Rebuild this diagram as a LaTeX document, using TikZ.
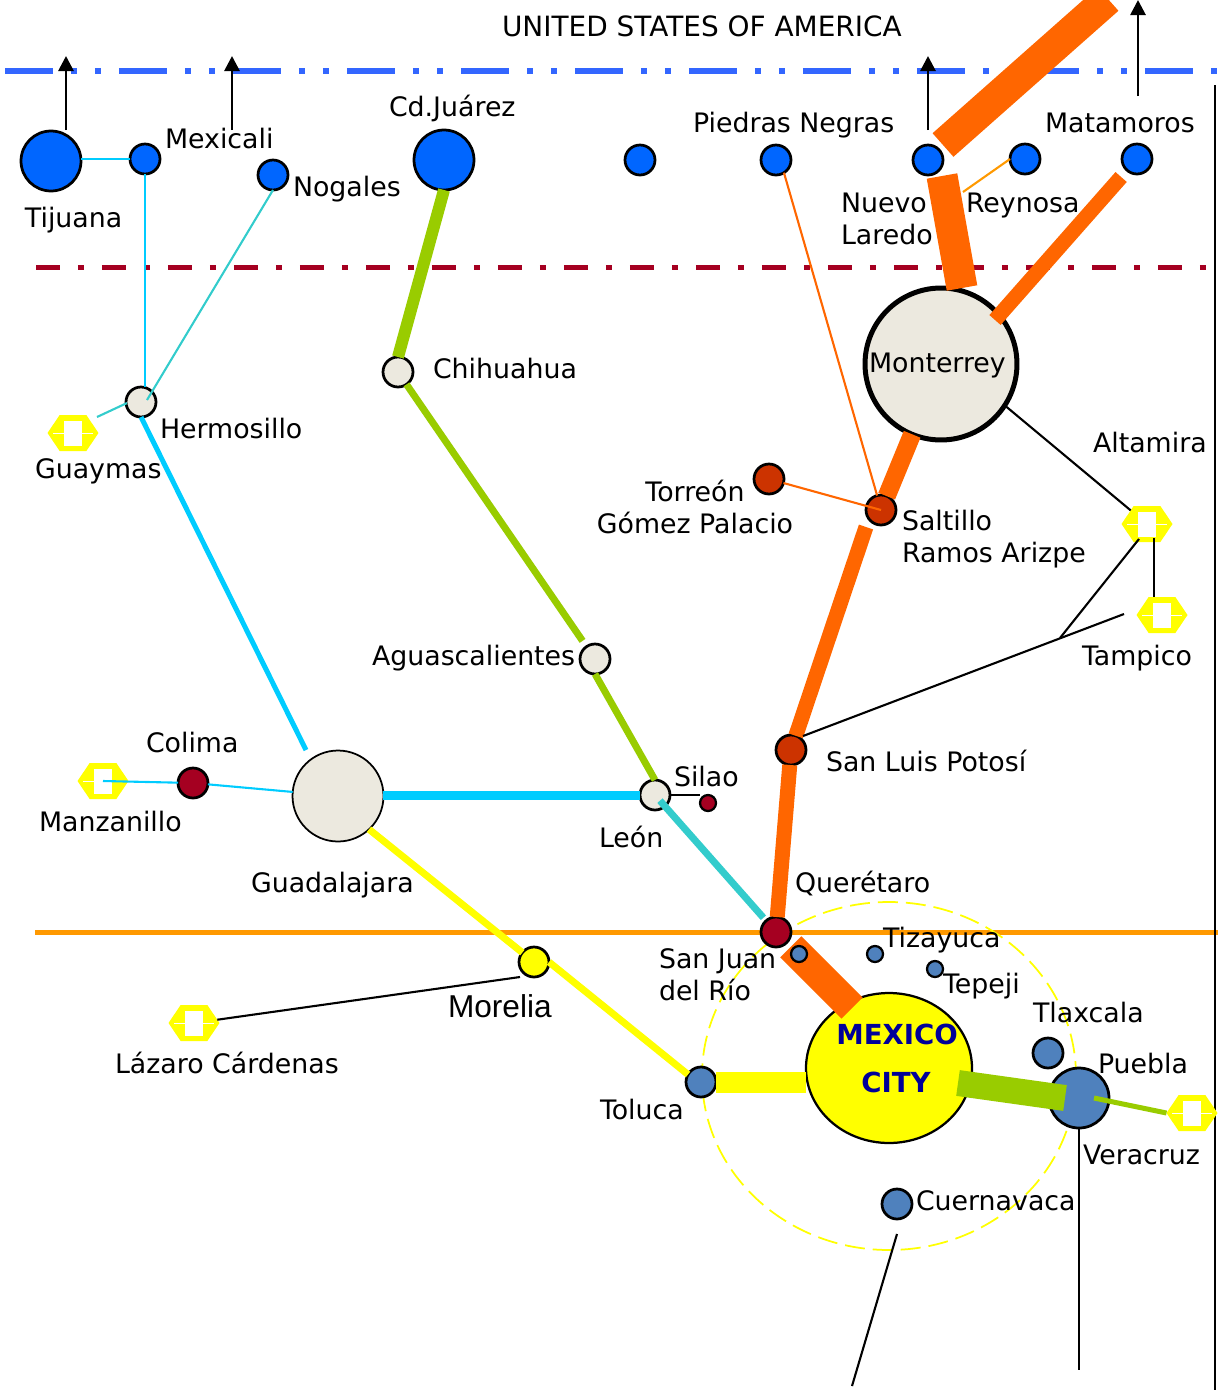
\documentclass[tikz,border=0pt]{standalone}
\usepackage{fontspec}
\setmainfont{DejaVu Sans}
\newfontfamily\arialfont{Liberation Sans}
\usetikzlibrary{arrows.meta,shapes.symbols,shapes.geometric}
\definecolor{cityblue}{HTML}{0066FF}
\definecolor{hubblue}{HTML}{4F81BD}
\definecolor{dashblue}{HTML}{3366FF}
\definecolor{sand}{HTML}{ECE9DF}
\definecolor{wine}{HTML}{A50021}
\definecolor{rust}{HTML}{CC3300}
\definecolor{route}{HTML}{FF6600}
\definecolor{amber}{HTML}{FF9900}
\definecolor{leaf}{HTML}{99CC00}
\definecolor{sky}{HTML}{00CCFF}
\definecolor{teal2}{HTML}{33CCCC}
\definecolor{navy2}{HTML}{000099}
\definecolor{lemon}{HTML}{FFFF00}
\tikzset{
    city/.style={circle,draw=black,line width=.55mm,minimum size=6mm,inner sep=0pt,outer sep=0pt},
    bigcity/.style={city,minimum size=12mm},
    tiny/.style={city,minimum size=3.2mm,line width=.45mm},
    port/.style={signal,signal to=east and west,signal pointer angle=112,fill=lemon,
        minimum width=10.2mm,minimum height=7.2mm,inner sep=0pt,outer sep=0pt,
        path picture={
            \fill[white] ([shift={(-1.8mm,-2.5mm)}]path picture bounding box.center) rectangle ([shift={(1.8mm,2.5mm)}]path picture bounding box.center);
            \draw[white,line width=.2mm] ([xshift=-4mm]path picture bounding box.center) -- ([xshift=4mm]path picture bounding box.center);
        }},
    lbl/.style={anchor=west,inner sep=0pt,outer sep=0pt,font=\fontsize{15.25}{18.2}\selectfont,text height=11.34pt,text depth=0pt},
    lbls/.style={anchor=west,inner sep=0pt,outer sep=0pt,font=\fontsize{15.25}{18.2}\selectfont,align=left},
    thinline/.style={line width=.42mm},
    capital/.style={anchor=west,inner sep=0pt,text=navy2,font=\fontsize{15.7}{18}\selectfont\bfseries},
    up/.style={-{Triangle[width=3mm,length=3mm]},line width=.55mm}
}
\begin{document}
\begin{tikzpicture}[x=0.02cm,y=-0.02cm]
        \path[use as bounding box,clip] (0,0) rectangle (1218,1390);

        \coordinate (b1) at (5,71);
        \coordinate (b2) at (1218,71);
        \coordinate (r1) at (36,267);
        \coordinate (r2) at (1207,267);
        \coordinate (o1) at (35,932);
        \coordinate (o2) at (1218,932);
        \coordinate (e1) at (1215,85);
        \coordinate (e2) at (1215,1390);

        \draw[dashblue,line width=1.2mm,dash pattern=on 9.6mm off 3.6mm on 1.2mm off 3.6mm on 1.2mm off 3.6mm] (b1) -- (b2);
        \draw[wine,line width=1mm,dash pattern=on 4.8mm off 3.6mm on 1.2mm off 3.6mm] (r1) -- (r2);
        \draw[amber,line width=1mm] (o1) -- (o2);
        \draw[thinline] (e1) -- (e2);
        \draw[lemon,line width=.35mm,dash pattern=on 4mm off 1.6mm] (889,1076) ellipse [x radius=187,y radius=174];

        \node[bigcity,fill=cityblue] (tij) at (51,161) {};
        \node[city,fill=cityblue] (mxl) at (145,159) {};
        \node[city,fill=cityblue] (nog) at (273,175) {};
        \node[bigcity,fill=cityblue] (cdj) at (444,160) {};
        \node[city,fill=cityblue] (acu) at (640,160) {};
        \node[city,fill=cityblue] (pie) at (776,160) {};
        \node[city,fill=cityblue] (nld) at (928,160) {};
        \node[city,fill=cityblue] (rey) at (1025,159) {};
        \node[city,fill=cityblue] (mat) at (1137,159) {};

        \node[city,fill=sand] (her) at (141,402) {};
        \node[city,fill=sand] (chi) at (398,372) {};
        \node[city,fill=sand] (ags) at (595,659) {};
        \node[city,fill=sand] (leo) at (655,795) {};
        \node[city,fill=sand,minimum size=18.2mm,line width=.35mm] (gdl) at (338,796) {};
        \node[city,fill=sand,minimum size=30.4mm,line width=1mm] (mon) at (941,364) {};

        \node[city,fill=rust] (tor) at (769,479) {};
        \node[city,fill=rust] (sal) at (881,510) {};
        \node[city,fill=rust] (slp) at (791,750) {};
        \node[city,fill=wine] (col) at (193,783) {};
        \node[city,fill=wine] (qro) at (776,932) {};
        \node[tiny,fill=wine] (sil) at (708,803) {};
        \node[city,fill=lemon] (mor) at (534,962) {};

        \node[ellipse,draw=black,line width=.45mm,fill=lemon,minimum width=33.2mm,minimum height=30mm,inner sep=0pt,outer sep=0pt] (mex) at (889,1068) {};
        \node[city,fill=hubblue] (tol) at (701,1082) {};
        \node[bigcity,fill=hubblue] (pue) at (1079,1098) {};
        \node[city,fill=hubblue] (tla) at (1048,1053) {};
        \node[city,fill=hubblue] (cue) at (897,1204) {};
        \node[tiny,fill=hubblue] (tiz) at (875,954) {};
        \node[tiny,fill=hubblue] (tep) at (935,969) {};

        \node[port] (gym) at (73,433) {};
        \node[port] (man) at (103,781) {};
        \node[port] (alt) at (1147,524) {};
        \node[port] (tam) at (1162,615) {};
        \node[port] (lzc) at (194,1023) {};
        \node[port] (ver) at (1192,1113) {};

        \coordinate (a1) at (66,130);
        \coordinate (a2) at (66,56);
        \coordinate (a3) at (232,130);
        \coordinate (a4) at (232,56);
        \coordinate (a5) at (928,130);
        \coordinate (a6) at (928,56);
        \coordinate (a7) at (1138,96);
        \coordinate (a8) at (1138,0);

        \coordinate (c1) at (943,145);
        \coordinate (c2) at (1108,-1);
        \coordinate (c3) at (942,176);
        \coordinate (c4) at (962,288);
        \coordinate (c5) at (995,320);
        \coordinate (c6) at (866,527);
        \coordinate (c7) at (852,1008);
        \coordinate (c8) at (958,1083);
        \coordinate (c9) at (1065,1098);
        \coordinate (c10) at (1094,1098);
        \coordinate (h1) at (147,400);
        \coordinate (h2) at (97,417);
        \coordinate (h3) at (127,403);
        \coordinate (g1) at (306,750);
        \coordinate (k1) at (963,192);
        \coordinate (t1) at (1154,538);
        \coordinate (t2) at (1139,539);
        \coordinate (t3) at (1060,638);
        \coordinate (t4) at (1124,614);
        \coordinate (t5) at (803,736);
        \coordinate (t6) at (897,1234);
        \coordinate (t7) at (852,1386);
        \coordinate (t8) at (1079,1370);
        \coordinate (t10) at (520,977);

        \draw[up] (a1) -- (a2);
        \draw[up] (a3) -- (a4);
        \draw[up] (a5) -- (a6);
        \draw[up] (a7) -- (a8);

        \draw[route,line width=6.3mm] (c1) -- (c2);
        \draw[route,line width=6.2mm] (c3) -- (c4);
        \draw[route,line width=3mm,shorten <=1.8mm] (mat) -- (c5);
        \draw[route,line width=3.6mm] (mon) -- (sal);
        \draw[route,line width=3mm] (c6) -- (slp);
        \draw[route,line width=3mm] (slp) -- (qro);
        \draw[route,line width=6mm,shorten <=1.2mm] (qro) -- (c7);

        \draw[route,thinline] (pie.-58) -- (sal.105);
        \draw[route,thinline] (tor) -- (sal.center);
        \draw[amber,thinline] (rey.west) -- (k1);

        \draw[leaf,line width=2.4mm] (cdj.south) -- (chi.north);
        \draw[leaf,line width=1.4mm,shorten >=1.4mm] (chi) -- (ags);
        \draw[leaf,line width=1.4mm] (ags.south) -- (leo.north);
        \draw[leaf,line width=5.2mm] (c8) -- (c9);
        \draw[leaf,line width=1mm] (c10) -- (ver.west);

        \draw[sky,line width=1mm] (her.south) -- (g1);
        \draw[sky,line width=1.8mm] (leo.west) -- (leo.west -| gdl.east);
        \draw[sky,thinline] (mxl.west) -- (mxl.west -| tij.east);
        \draw[sky,thinline] (mxl.south) -- (mxl.south |- her.north);
        \draw[sky,thinline] (col) -- (gdl);
        \draw[sky,thinline] (man.center) -- (col);

        \draw[teal2,thinline] (nog.south) -- (h1);
        \draw[teal2,thinline] (h2) -- (h3);
        \draw[teal2,line width=1.4mm,shorten <=1.5mm,shorten >=.8mm] (leo.center) -- (qro);

        \draw[lemon,line width=1.4mm] (gdl.-47) -- (mor);
        \draw[lemon,line width=1.4mm] (mor.east) -- (tol.150);
        \draw[lemon,line width=4.2mm] (tol.east) -- (tol.east -| mex.west);

        \draw[thinline] (leo.east) -- (leo.east -| sil.west);
        \draw[thinline] (mon.-33) -- (alt);
        \draw[thinline] (t1) -- (t1 |- tam.north);
        \draw[thinline] (t2) -- (t3);
        \draw[thinline] (t4) -- (t5);
        \draw[thinline] (t6) -- (t7);
        \draw[thinline] (pue.south) -- (t8);
        \draw[thinline] (lzc) -- (t10);

        \node[tiny,fill=hubblue] (sjr) at (799,954) {};

        \node[lbl,font=\fontsize{15.9}{18.2}\selectfont] (lusa) at (502,27) {UNITED STATES OF AMERICA};
        \node[lbl] (ltij) at (25,218) {Tijuana};
        \node[lbl] (lmxl) at (165,139) {Mexicali};
        \node[lbl] (lnog) at (293,187) {Nogales};
        \node[lbl] (lcdj) at (389,107) {Cd.Juárez};
        \node[lbl] (lpie) at (693,123) {Piedras Negras};
        \node[lbl] (lmat) at (1045,123) {Matamoros};
        \node[lbls] (lnld) at (841,219) {Nuevo\\Laredo};
        \node[lbl] (lrey) at (966,203) {Reynosa};
        \node[lbl] (lchi) at (433,369) {Chihuahua};
        \node[lbl] (lmon) at (869,363) {Monterrey};
        \node[lbl] (lher) at (160,429) {Hermosillo};
        \node[lbl] (lgym) at (35,469) {Guaymas};
        \node[lbl] (lalt) at (1093,443) {Altamira};
        \node[lbls,anchor=center,align=center] (ltor) at (695,507) {Torreón\\Gómez Palacio};
        \node[lbls] (lsal) at (902,539) {Saltillo\\Ramos Arizpe};
        \node[lbl] (ltam) at (1082,656) {Tampico};
        \node[lbl] (lags) at (372,656) {Aguascalientes};
        \node[lbl] (lslp) at (826,762) {San Luis Potosí};
        \node[lbl] (lcol) at (146,743) {Colima};
        \node[lbl] (lsil) at (674,777) {Silao};
        \node[lbl] (lman) at (39,822) {Manzanillo};
        \node[lbl] (lleo) at (599,838) {León};
        \node[lbl] (lgdl) at (251,883) {Guadalajara};
        \node[lbl] (lqro) at (795,883) {Querétaro};
        \node[lbl] (ltiz) at (883,938) {Tizayuca};
        \node[lbls] (lsjr) at (659,975) {San Juan\\del Río};
        \node[lbl] (ltep) at (943,984) {Tepeji};
        \node[lbl,font=\arialfont\fontsize{18}{20}\selectfont] (lmor) at (448,1008) {Morelia};
        \node[lbl] (llzc) at (115,1064) {Lázaro Cárdenas};
        \node[lbl] (ltla) at (1033,1013) {Tlaxcala};
        \node[lbl] (lpue) at (1098,1064) {Puebla};
        \node[lbl] (ltol) at (600,1110) {Toluca};
        \node[lbl] (lver) at (1083,1155) {Veracruz};
        \node[lbl] (lcue) at (916,1201) {Cuernavaca};
        \node[capital] (lmex) at (836,1034) {MEXICO};
        \node[capital] (lcty) at (861,1082) {CITY};
    \end{tikzpicture}
\end{document}
